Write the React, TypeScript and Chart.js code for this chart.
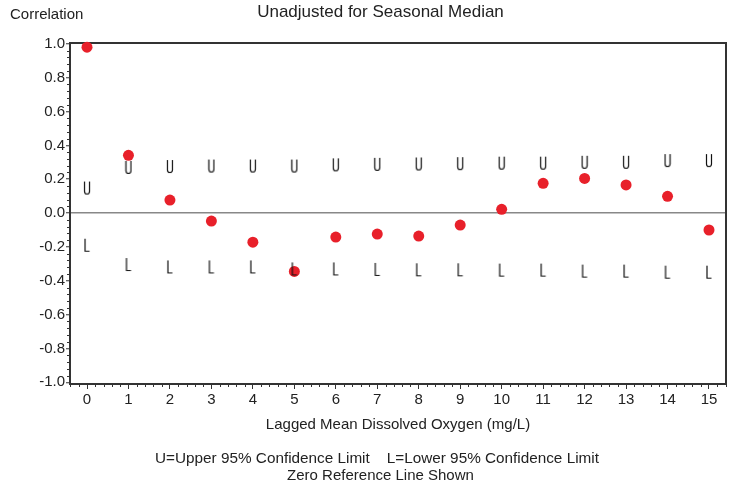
import React, { useEffect, useRef } from "react";
import { Chart, registerables } from "chart.js";
Chart.register(...registerables);

const FONT = "'Liberation Sans', Arial, Helvetica, sans-serif";

const lags = [0, 1, 2, 3, 4, 5, 6, 7, 8, 9, 10, 11, 12, 13, 14, 15];
const correlation = [0.98, 0.341, 0.077, -0.047, -0.172, -0.345, -0.142, -0.124, -0.136, -0.071, 0.022, 0.176, 0.205, 0.166, 0.099, -0.1];
const upperLimit = [0.148, 0.27, 0.275, 0.278, 0.278, 0.278, 0.285, 0.288, 0.29, 0.292, 0.295, 0.295, 0.3, 0.3, 0.31, 0.31];
const lowerLimit = [-0.19, -0.304, -0.318, -0.318, -0.318, -0.33, -0.33, -0.333, -0.335, -0.335, -0.337, -0.337, -0.343, -0.343, -0.349, -0.349];

const xTicks = [0, 1, 2, 3, 4, 5, 6, 7, 8, 9, 10, 11, 12, 13, 14, 15];
const yTicks = [-1.0, -0.8, -0.6, -0.4, -0.2, 0.0, 0.2, 0.4, 0.6, 0.8, 1.0];

const titleText = "Unadjusted for Seasonal Median";
const yTitle = "Correlation";
const xTitle = "Lagged Mean Dissolved Oxygen (mg/L)";
const footnote1 = "U=Upper 95% Confidence Limit    L=Lower 95% Confidence Limit";
const footnote2 = "Zero Reference Line Shown";

function makeGlyph(kind: "U" | "L"): HTMLCanvasElement {
  const c = document.createElement("canvas");
  c.width = 8;
  c.height = 15;
  const g = c.getContext("2d")!;
  g.strokeStyle = "#111";
  g.lineWidth = 1.2;
  g.beginPath();
  if (kind === "U") {
    g.moveTo(1.5, 1);
    g.lineTo(1.5, 11);
    g.arc(4, 11, 2.5, Math.PI, 0, true);
    g.lineTo(6.5, 1);
  } else {
    g.moveTo(2, 1);
    g.lineTo(2, 13.5);
    g.lineTo(6.5, 13.5);
  }
  g.stroke();
  return c;
}

const decor = {
  id: "decor",
  beforeDatasetsDraw(chart: any) {
    const { ctx, chartArea: a } = chart;
    ctx.save();
    ctx.strokeStyle = "#333";
    ctx.lineWidth = 2;
    ctx.strokeRect(a.left, a.top, a.right - a.left, a.bottom - a.top);
    ctx.restore();
  },
  afterDraw(chart: any) {
    const { ctx, chartArea: a, scales } = chart;
    const x = scales.x;
    const y = scales.y;
    ctx.save();
    ctx.strokeStyle = "#333";
    ctx.lineWidth = 1;
    ctx.beginPath();
    for (let i = -2; i <= 77; i++) {
      if (i % 5 === 0) continue;
      const px = Math.round(x.getPixelForValue(i * 0.2)) + 0.5;
      ctx.moveTo(px, a.bottom + 1);
      ctx.lineTo(px, a.bottom + 3);
    }
    for (let i = -25; i <= 25; i++) {
      if (i % 5 === 0) continue;
      const py = Math.round(y.getPixelForValue(i * 0.04)) + 0.5;
      ctx.moveTo(a.left - 1, py);
      ctx.lineTo(a.left - 3, py);
    }
    ctx.stroke();

    ctx.fillStyle = "#222";
    ctx.textBaseline = "alphabetic";
    ctx.font = `15px ${FONT}`;
    ctx.textAlign = "left";
    ctx.fillText(yTitle, 10, 19);
    ctx.textAlign = "center";
    ctx.font = `17px ${FONT}`;
    ctx.fillText(titleText, 380.5, 17);
    ctx.font = `15px ${FONT}`;
    ctx.fillText(xTitle, (a.left + a.right) / 2, 429);
    ctx.font = `15.3px ${FONT}`;
    ctx.fillText(footnote1, 377, 463);
    ctx.font = `15px ${FONT}`;
    ctx.fillText(footnote2, 380.5, 480);
    ctx.restore();
  },
};

export default function App() {
  const ref = useRef<HTMLCanvasElement>(null);
  useEffect(() => {
    document.body.style.margin = "0";
    Chart.defaults.font.family = FONT;
    const uImg = makeGlyph("U");
    const lImg = makeGlyph("L");
    const chart = new Chart(ref.current!, {
      type: "scatter",
      data: {
        datasets: [
          {
            label: "Upper",
            data: lags.map((l, i) => ({ x: l, y: upperLimit[i] })),
            pointStyle: uImg as any,
            clip: false as any,
          },
          {
            label: "Lower",
            data: lags.map((l, i) => ({ x: l, y: lowerLimit[i] })),
            pointStyle: lImg as any,
            clip: false as any,
          },
          {
            label: "Correlation",
            data: lags.map((l, i) => ({ x: l, y: correlation[i] })),
            pointStyle: "circle",
            pointRadius: 5.5,
            backgroundColor: "#e8202a",
            borderWidth: 0,
            clip: false as any,
          },
        ],
      },
      options: {
        responsive: false,
        animation: false,
        layout: { padding: { top: 43, right: 11, left: 0, bottom: 0 } },
        plugins: { legend: { display: false }, tooltip: { enabled: false } },
        scales: {
          x: {
            type: "linear",
            min: -0.41,
            max: 15.41,
            afterBuildTicks: (s: any) => {
              s.ticks = xTicks.map((v) => ({ value: v }));
            },
            afterFit: (s: any) => {
              s.height = 99;
            },
            grid: { drawOnChartArea: false, tickLength: 5, tickColor: "#333", tickWidth: 1 },
            border: { display: false },
            ticks: {
              font: { size: 15, family: FONT },
              color: "#222",
              padding: 2,
              maxRotation: 0,
              autoSkip: false,
              callback: (v: any) => String(v),
            },
          },
          y: {
            type: "linear",
            min: -1.01,
            max: 1.005,
            afterBuildTicks: (s: any) => {
              s.ticks = yTicks.map((v) => ({ value: v }));
            },
            afterFit: (s: any) => {
              s.width = 70;
            },
            grid: {
              color: (c: any) => (c.tick && Math.abs(c.tick.value) < 1e-9 ? "#888" : "rgba(0,0,0,0)"),
              lineWidth: 1.5,
              tickLength: 4,
              tickColor: "#333",
              tickWidth: 1,
            },
            border: { display: false },
            ticks: {
              font: { size: 15, family: FONT },
              color: "#222",
              padding: 1,
              autoSkip: false,
              callback: (v: any) => Number(v).toFixed(1),
            },
          },
        },
      },
      plugins: [decor],
    });
    return () => chart.destroy();
  }, []);
  return (
    <div style={{ width: 737, height: 483 }}>
      <canvas ref={ref} width={737} height={483} style={{ display: "block" }} />
    </div>
  );
}
